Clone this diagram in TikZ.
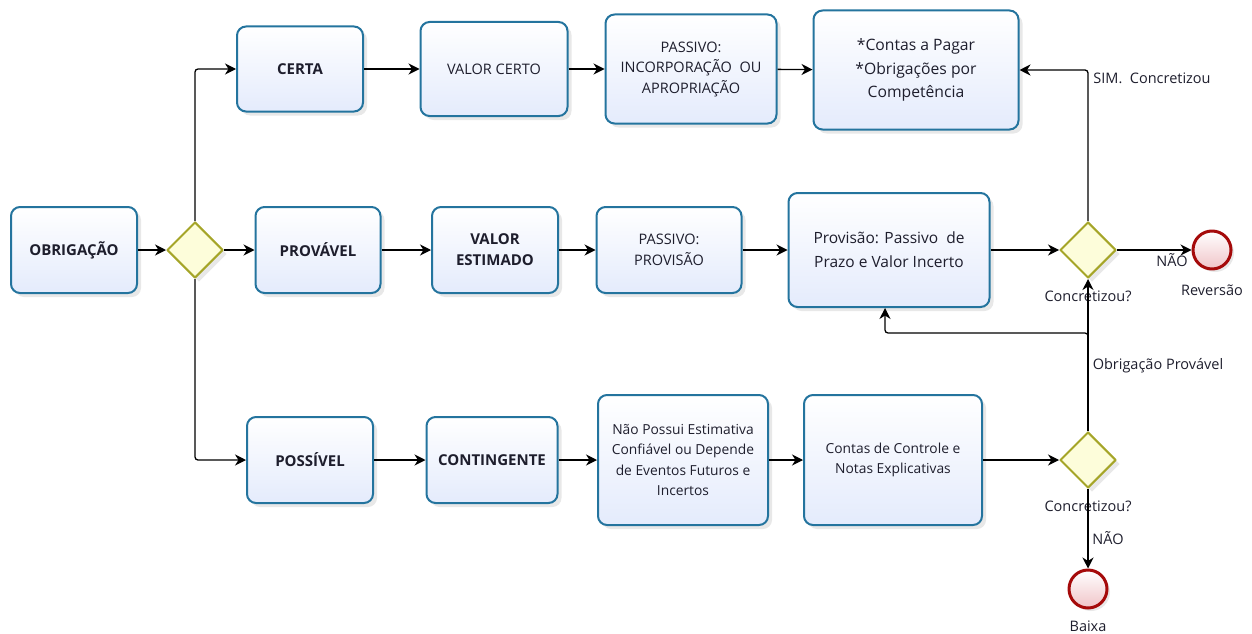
\documentclass[tikz,border=0pt]{standalone}
\usepackage{fontspec}
\setmainfont{Open Sans}
\usetikzlibrary{arrows.meta,shapes.geometric,shadows}

\definecolor{boxborda}{RGB}{36,116,158}
\definecolor{boxfundo}{RGB}{228,235,252}
\definecolor{gwborda}{RGB}{165,165,40}
\definecolor{gwfundo}{RGB}{253,253,218}
\definecolor{evborda}{RGB}{165,10,10}
\definecolor{evfundo}{RGB}{240,196,200}
\definecolor{texto}{RGB}{30,30,45}

\begin{document}
\begin{tikzpicture}[x=1pt, y=-1pt, line join=round,
  tarefa/.style={draw=boxborda, line width=2pt, rounded corners=9pt, top color=white, bottom color=boxfundo,
    drop shadow={opacity=0.18, shadow xshift=4pt, shadow yshift=-4pt}, align=center, inner sep=2pt,
    text=texto, font=\fontsize{14.5}{20.5}\selectfont},
  forte/.style={font=\fontsize{15}{21}\selectfont\bfseries},
  porta/.style={diamond, aspect=1, draw=gwborda, line width=2pt, fill=gwfundo, minimum width=56pt, minimum height=56pt,
    inner sep=0pt, drop shadow={opacity=0.18, shadow xshift=4pt, shadow yshift=-4pt}},
  fim/.style={circle, draw=evborda, line width=3pt, top color=white, bottom color=evfundo, minimum size=38pt, inner sep=0pt,
    drop shadow={opacity=0.18, shadow xshift=3pt, shadow yshift=-3pt}},
  rotulo/.style={text=texto, inner sep=1pt, font=\fontsize{14.5}{17}\selectfont},
  seta/.style={-{Stealth[length=11pt,width=11pt,inset=3.5pt]}, line width=1.3pt, rounded corners=3pt},
]

  %% ════ origem ════
  \node[tarefa, forte, minimum width=126pt, minimum height=86pt] (obrig) at (74,250) {OBRIGAÇÃO};
  \node[porta] (gw1) at (195,250) {};

  %% ════ linha 1: certa ════
  \node[tarefa, forte, minimum width=126pt, minimum height=85pt] (certa) at (300,69) {CERTA};
  \node[tarefa, minimum width=147pt, minimum height=94pt] (vcerto) at (494,69) {VALOR CERTO};
  \node[tarefa, minimum width=171pt, minimum height=109pt] (pinc) at (691,69) {PASSIVO:\\INCORPORAÇÃO~ OU\\APROPRIAÇÃO};
  \node[tarefa, minimum width=205pt, minimum height=119pt, font=\fontsize{15.7}{23.5}\selectfont] (contas) at (916,70)
    {*Contas a Pagar\\*Obrigações por\\Competência};

  %% ════ linha 2: provável ════
  \node[tarefa, forte, minimum width=125pt, minimum height=86pt] (prov) at (318,250) {PROVÁVEL};
  \node[tarefa, forte, minimum width=126pt, minimum height=86pt] (vest) at (495,250) {VALOR\\ESTIMADO};
  \node[tarefa, minimum width=145pt, minimum height=86pt] (pprov) at (669,250) {PASSIVO:\\PROVISÃO};
  \node[tarefa, minimum width=201pt, minimum height=114pt, font=\fontsize{15.5}{24}\selectfont] (provisao) at (889,250)
    {Provisão: Passivo~ de\\Prazo e Valor Incerto};
  \node[porta] (gw2) at (1088,250) {};
  \node[fim] (rev) at (1212,250) {};

  %% ════ linha 3: possível ════
  \node[tarefa, forte, minimum width=126pt, minimum height=86pt] (poss) at (310,460) {POSSÍVEL};
  \node[tarefa, forte, minimum width=131pt, minimum height=86pt] (cont) at (492,460) {CONTINGENTE};
  \node[tarefa, minimum width=170pt, minimum height=130pt, font=\fontsize{13.8}{20.5}\selectfont] (naop) at (683,460)
    {Não Possui Estimativa\\Confiável ou Depende\\de Eventos Futuros e\\Incertos};
  \node[tarefa, minimum width=178pt, minimum height=130pt, font=\fontsize{13.8}{20.5}\selectfont] (ccont) at (893,460)
    {Contas de Controle e\\Notas Explicativas};
  \node[porta] (gw3) at (1088,460) {};
  \node[fim] (baixa) at (1088,589) {};

  %% ════ rótulos ════
  \node[rotulo] (lgw2) at (1088,296) {Concretizou?};
  \node[rotulo] (lgw3) at (1088,506) {Concretizou?};
  \node[rotulo] (lrev) at (1212,290) {Reversão};
  \node[rotulo] (lbaixa) at (1088,626) {Baixa};
  \node[rotulo] (lnao1) at (1172,260) {NÃO};
  \node[rotulo] (lnao2) at (1108,538) {NÃO};
  \node[rotulo] (lsim) at (1152,78) {SIM.~ Concretizou};
  \node[rotulo] (lobp) at (1158,366) {Obrigação Provável};
  \coordinate (volta) at (1088,333);

  %% ════ conectores ════
  \draw[seta] (obrig) -- (gw1);
  \draw[seta] (gw1.north) |- (certa.west);
  \draw[seta] (gw1) -- (prov);
  \draw[seta] (gw1.south) |- (poss.west);
  \draw[seta] (certa) -- (vcerto);
  \draw[seta] (vcerto) -- (pinc);
  \draw[seta] (pinc) -- (contas);
  \draw[seta] (prov) -- (vest);
  \draw[seta] (vest) -- (pprov);
  \draw[seta] (pprov) -- (provisao);
  \draw[seta] (provisao) -- (gw2);
  \draw[seta] (gw2.north) |- (contas.east);
  \draw[seta] (gw2) -- (rev);
  \draw[seta] (poss) -- (cont);
  \draw[seta] (cont) -- (naop);
  \draw[seta] (naop) -- (ccont);
  \draw[seta] (ccont) -- (gw3);
  \draw[seta] (gw3.north) -- (gw2.south);
  \draw[seta] (gw3.north) -- (volta) -| ([xshift=-4pt]provisao.south);
  \draw[seta] (gw3) -- (baixa);

  \pgfresetboundingbox
  \path[use as bounding box] (0,0) rectangle (1252,634);
\end{tikzpicture}
\end{document}
